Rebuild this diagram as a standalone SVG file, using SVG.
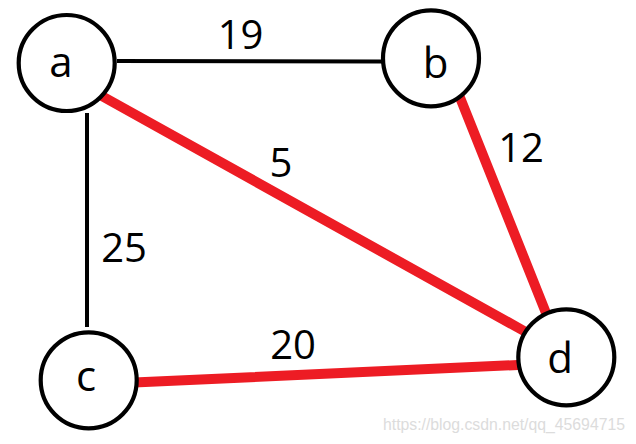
<svg xmlns="http://www.w3.org/2000/svg" width="636" height="444" viewBox="0 0 636 444">
<style>
.node{fill:#fff;stroke:#000;stroke-width:4.2}
.lbl{font-family:"Open Sans","Noto Sans","DejaVu Sans",sans-serif;font-size:42px;fill:#000;text-anchor:middle}
.w{font-family:"Open Sans","Noto Sans","DejaVu Sans",sans-serif;font-size:40px;fill:#000;text-anchor:middle}
.blk{stroke:#000;stroke-width:4;fill:none}
.red{stroke:#ED1C24;stroke-width:10;stroke-linecap:round;fill:none}
</style>
<rect width="636" height="444" fill="#fff"/>
<g id="connectors">
<line class="blk" x1="117" y1="61" x2="383" y2="61.5"/>
<line class="blk" x1="87" y1="113" x2="87" y2="327"/>
<line class="red" x1="100" y1="95" x2="524" y2="331"/>
<line class="red" x1="459" y1="95" x2="546" y2="313"/>
<line class="red" x1="134" y1="382.5" x2="518" y2="365"/>
<text class="w" x="240.5" y="49">19</text>
<text class="w" x="281" y="177">5</text>
<text class="w" x="521" y="161.5">12</text>
<text class="w" x="124" y="261.5">25</text>
<text class="w" x="293" y="359">20</text>
</g>
<g id="node-a"><circle class="node" cx="66.7" cy="63" r="48"/><text class="lbl" x="61" y="77">a</text></g>
<g id="node-b"><circle class="node" cx="431" cy="58.3" r="48"/><text class="lbl" x="435.5" y="78">b</text></g>
<g id="node-c"><circle class="node" cx="88.7" cy="380.3" r="48"/><text class="lbl" x="86" y="391">c</text></g>
<g id="node-d"><circle class="node" cx="566.3" cy="357.3" r="48"/><text class="lbl" x="560" y="373">d</text></g>
<text x="383" y="429.5" font-family="Liberation Sans, Arial, sans-serif" font-size="15.8" fill="#dcdcdc" textLength="242">https://blog.csdn.net/qq_45694715</text>
</svg>
